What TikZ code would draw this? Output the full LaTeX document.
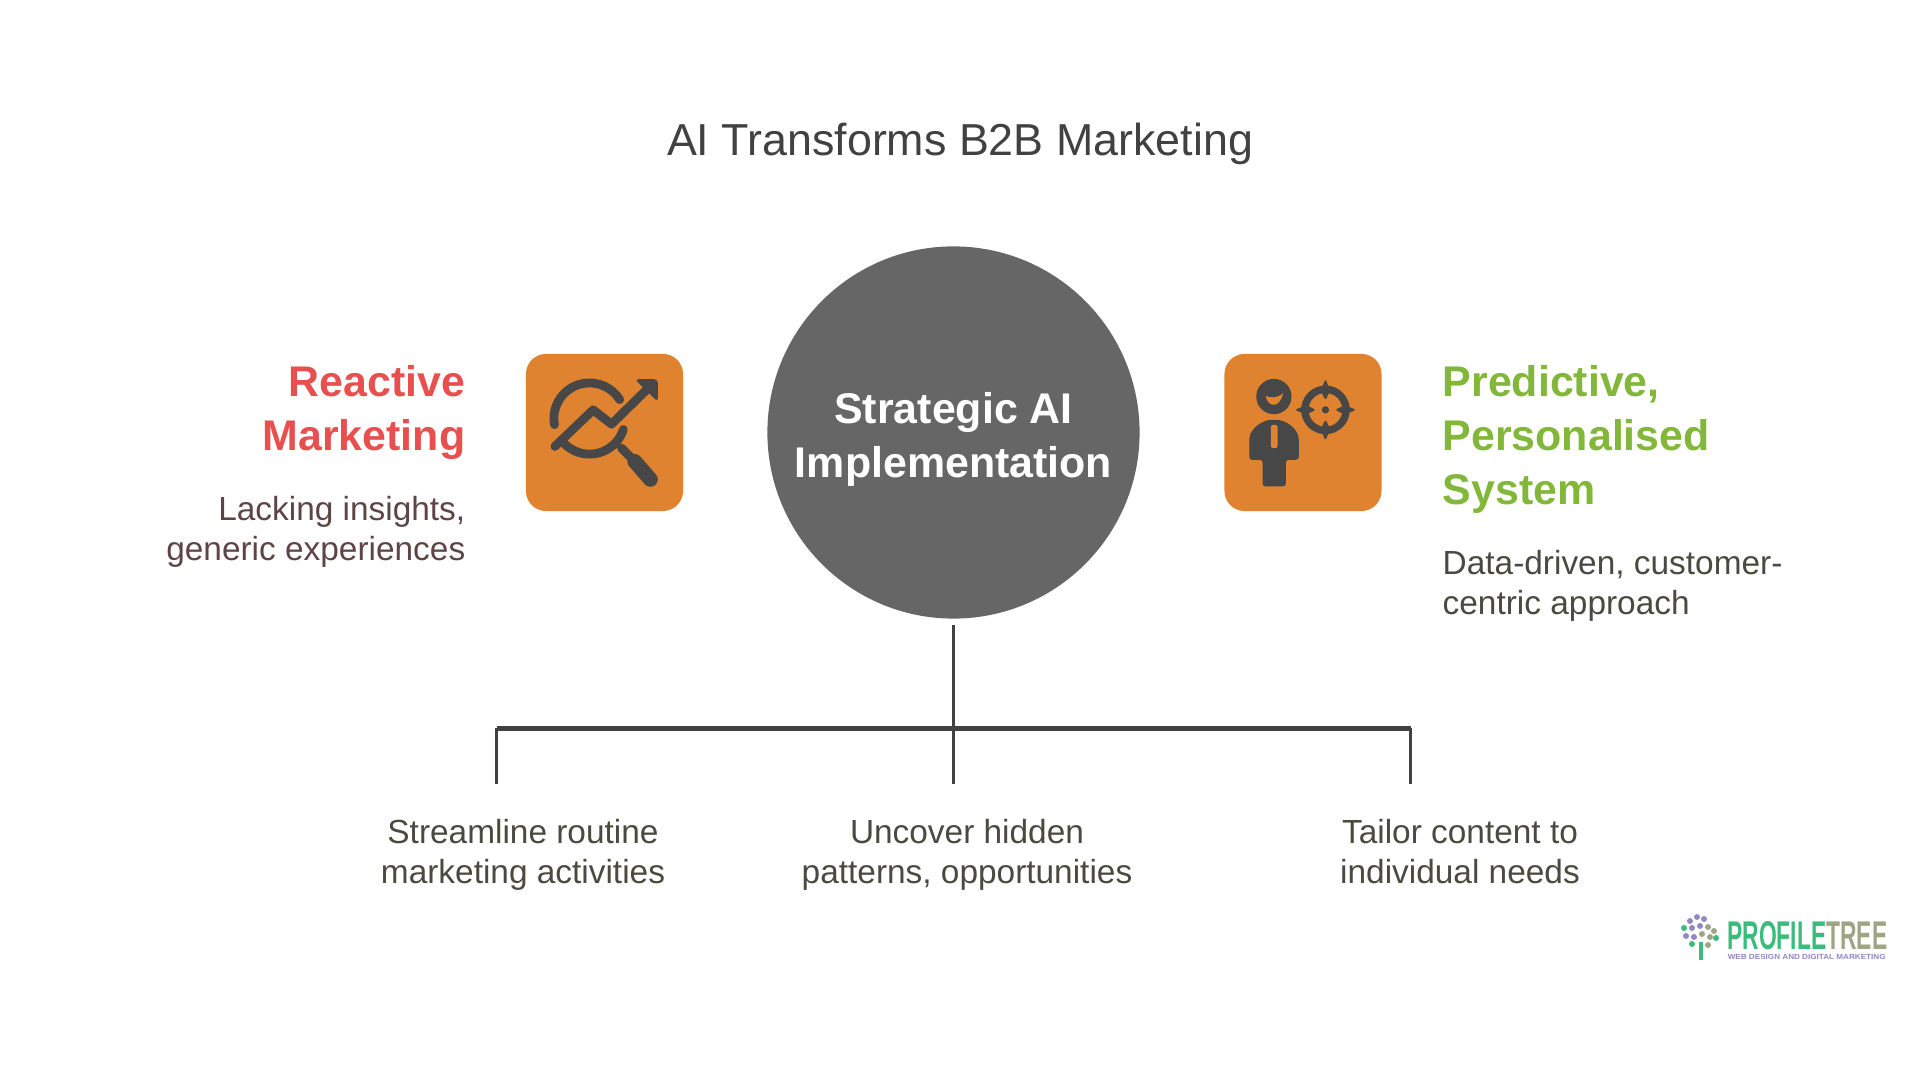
\documentclass[tikz,border=0pt]{standalone}
\usepackage{fontspec}
\setmainfont{Liberation Sans}
\usepackage{tikz}
\usetikzlibrary{calc,shapes}
\definecolor{hubgray}{HTML}{666666}
\definecolor{linegray}{HTML}{414141}
\definecolor{iconbg}{HTML}{DF8330}
\definecolor{icondark}{HTML}{474747}
\definecolor{redhead}{HTML}{E85050}
\definecolor{greenhead}{HTML}{82B73A}
\definecolor{redtext}{HTML}{5E4444}
\definecolor{greentext}{HTML}{4A4A40}
\definecolor{logogreen}{HTML}{3DBB7C}
\definecolor{logotan}{HTML}{9FA582}
\definecolor{logopurple}{HTML}{9288C4}
\tikzstyle{hubcircle}=[circle,fill=hubgray,minimum size=3.72cm,inner sep=0pt]
\tikzstyle{iconbox}=[rectangle,fill=iconbg,minimum size=1.57cm,rounded corners=0.2cm,inner sep=0pt]
\tikzstyle{headline}=[inner sep=0pt,font=\fontsize{12.2}{15.36}\selectfont\bfseries]
\tikzstyle{subline}=[inner sep=0pt,font=\fontsize{9.5}{11.5}\selectfont]
\tikzstyle{branchline}=[draw=linegray,line width=0.85pt]
\tikzstyle{iconline}=[draw=icondark,line width=2.5pt,line cap=round,line join=round]

\begin{document}
\begin{tikzpicture}[x=0.01cm,y=-0.01cm]
	\useasboundingbox (0,0) rectangle (1920,1080);

	\node [inner sep=0pt,text=linegray,font=\fontsize{12.74}{15}\selectfont] (title) at (960,155.5) [anchor=base] {AI Transforms B2B Marketing};

	\node [hubcircle] (strategy) at (953.5,432.5) {};
	\node [headline,text=white,align=center,anchor=base] (strategylabel) at (953.5,477.5) {Strategic AI\\Implementation};
	\node [iconbox] (reactiveicon) at (604.5,432.5) {};
	\node [iconbox] (predictiveicon) at (1303,432.5) {};

	\node [headline,text=redhead,align=right,anchor=base east] (reactive) at (466,451) {Reactive\\Marketing};
	\node [subline,text=redtext,align=right,anchor=base east] (reactivesub) at (466,561) {Lacking insights,\\generic experiences};
	\node [headline,text=greenhead,align=left,anchor=base west] (predictive) at (1442,505) {Predictive,\\Personalised\\System};
	\node [subline,text=greentext,align=left,anchor=base west] (predictivesub) at (1442,615) {Data-driven, customer-\\centric approach};

	\node [subline,text=greentext,align=center,anchor=base] (streamline) at (523,884) {Streamline routine\\marketing activities};
	\node [subline,text=greentext,align=center,anchor=base] (uncover) at (967,884) {Uncover hidden\\patterns, opportunities};
	\node [subline,text=greentext,align=center,anchor=base] (tailor) at (1460,884) {Tailor content to\\individual needs};

	\coordinate (leftdrop) at (496.5,728.5);
	\coordinate (rightdrop) at (1410.5,728.5);
	\coordinate (leftend) at (496.5,784);
	\coordinate (midend) at (953.5,784);
	\coordinate (rightend) at (1410.5,784);
	\draw [branchline,shorten >=0.06cm] (midend) -- (strategy.south);
	\draw [branchline] (leftend) -- (leftdrop);
	\draw [branchline] (rightend) -- (rightdrop);
	\draw [branchline,line width=1.15pt] (leftdrop) -- (rightdrop);

	% magnifier with rising arrow
	\begin{scope}[shift={(500,330)},x=0.003333cm,y=-0.003333cm]
		\draw [iconline] (269,266) ++(170:107) arc[start angle=170,end angle=328,radius=107];
		\draw [iconline] (269,266) ++(137:107) arc[start angle=137,end angle=18,radius=107];
		\draw [iconline] (165,350) -- (280,240) -- (335,283) -- (440,180);
		\fill [icondark,rounded corners=1pt] (405,148) -- (474,148) -- (474,216) -- cycle;
		\draw [iconline] (365,355) -- (400,390);
		\draw [iconline,line width=4.2pt] (405,395) -- (452,449);
	\end{scope}

	% person with target
	\begin{scope}[shift={(1200,330)},x=0.003333cm,y=-0.003333cm]
		\fill [icondark] (222,200) circle (53);
		\fill [iconbg] (197,198) .. controls (205,235) and (240,235) .. (250,190) .. controls (232,205) and (215,205) .. (197,198) -- cycle;
		\fill [icondark,rounded corners=0.8pt] (188,470) -- (188,390) -- (148,390) -- (148,335) .. controls (150,295) and (190,270) .. (222,270)
			.. controls (255,270) and (295,295) .. (297,335) -- (297,390) -- (258,390) -- (258,470) -- cycle;
		\fill [iconbg,rounded corners=0.6pt] (213,285) rectangle (233,355);
		\draw [iconline,line width=2.1pt] (377,240) circle (62);
		\fill [icondark] (377,240) circle (11);
		\foreach \tickangle in {0,90,180,270}
			\fill [icondark,rounded corners=0.8pt,rotate around={\tickangle:(377,240)}] (405,240) -- (435,226) -- (470,240) -- (435,254) -- cycle;
	\end{scope}

	% logo
	\node [inner sep=0pt,xscale=0.57,anchor=base west,font=\fontsize{11.4}{12}\selectfont\bfseries] (logoname) at (1727,950) {\textcolor{logogreen}{PROFILE}\textcolor{logotan}{TREE}};
	\node [inner sep=0pt,anchor=base west,text=logopurple,xscale=1.1,font=\fontsize{2.1}{3}\selectfont\bfseries] (logotag) at (1727,960) {WEB DESIGN AND DIGITAL MARKETING};
	\draw [logogreen,line width=0.9pt] (1701,942) -- (1701,960);
	\foreach \dotx/\doty/\dotcol in {1690/921/logopurple,1697/917/logopurple,1704/919/logopurple,1684/928/logogreen,1692/928/logopurple,1700/926/logopurple,1708/927/logotan,1714/931/logotan,1686/936/logopurple,1694/937/logopurple,1702/934/logotan,1710/937/logotan,1716/938/logogreen,1692/944/logogreen,1708/945/logotan}
		\fill [\dotcol] (\dotx,\doty) circle (3);
\end{tikzpicture}
\end{document}
